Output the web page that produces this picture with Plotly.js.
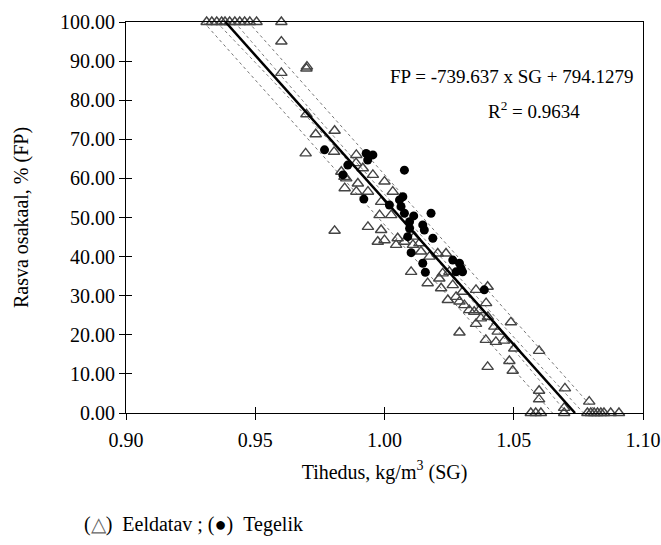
<!DOCTYPE html>
<html>
<head>
<meta charset="utf-8">
<script src="https://cdn.plot.ly/plotly-3.0.1.min.js"></script>
<style>html,body{margin:0;padding:0;background:#fff;}#chart{width:661px;height:545px;}</style>
</head>
<body>
<div id="chart"></div>
<script>
// Eeldatav (predicted) – open triangles
const sgEeldatav = [0.9312,0.9332,0.9351,0.9370,0.9383,0.9401,0.9421,0.9440,0.9459,0.9479,0.9505,0.9601,
  0.9601,0.9601,0.9698,0.9700,0.9698,0.9734,0.9695,0.9807,0.9805,
  0.9891,0.9890,0.9916,0.9833,0.9852,0.9845,0.9897,0.9955,1.0000,0.9846,0.9891,0.9936,1.0032,0.9987,0.9981,1.0026,
  0.9807,0.9936,0.9987,1.0051,1.0000,0.9974,1.0045,1.0077,1.0110,1.0116,1.0135,1.0141,1.0174,1.0206,1.0238,
  1.0103,1.0225,1.0251,1.0212,1.0167,1.0219,1.0264,1.0245,1.0277,1.0302,1.0290,1.0309,1.0354,1.0399,
  1.0328,1.0347,1.0367,1.0393,1.0400,1.0373,1.0354,1.0290,1.0489,1.0425,1.0438,1.0463,1.0431,1.0502,1.0392,
  1.0598,1.0483,1.0496,1.0399,1.0598,1.0598,1.0566,1.0585,1.0605,1.0698,1.0695,1.0695,1.0792,
  1.0785,1.0798,1.0811,1.0824,1.0837,1.0849,1.0875,1.0907];
const fpEeldatav = [100,100,100,100,100,100,100,100,100,100,100,100,
  95.0,87.0,88.1,88.6,76.4,71.3,66.4,72.2,66.8,
  66.0,63.9,62.6,61.7,60.0,60.4,58.7,60.9,59.2,57.5,56.6,56.6,56.6,54.0,50.6,50.6,
  46.6,47.6,46.8,44.7,44.2,43.8,43.0,43.8,43.0,45.1,43.4,41.3,40.0,40.8,40.8,
  36.1,35.7,36.1,34.4,33.2,31.9,32.7,28.9,29.7,31.0,28.5,27.6,31.5,32.3,
  26.3,25.9,26.3,28.1,24.6,24.2,22.8,20.6,23.2,22.1,20.8,18.5,18.2,16.5,18.7,
  15.9,13.3,10.8,11.8,5.7,3.5,0,0,0,6.3,0,1.3,2.9,
  0,0,0,0,0,0,0,0];

// Tegelik (actual) – filled circles
const sgTegelik = [0.9768,0.9929,0.9955,0.9935,0.9858,0.9839,1.0077,0.9920,1.0071,1.0058,1.0019,1.0064,1.0077,1.0113,
  1.0180,1.0097,1.0148,1.0154,1.0097,1.0090,1.0187,1.0103,1.0148,1.0158,1.0264,1.0290,1.0296,1.0277,1.0302,1.0386];
const fpTegelik = [67.3,66.4,66.0,64.7,63.4,60.9,62.1,54.7,55.3,54.5,53.2,52.8,51.1,50.4,
  51.1,48.9,48.1,46.8,47.2,45.1,44.7,41.0,38.3,36.0,39.1,38.3,37.0,36.1,36.1,31.5];

// Regression line FP = -739.637 x SG + 794.1279 (end points)
const sgFit = [0.9385, 1.0737];
const fpFit = [100, 0];

// Dashed band lines
const sgBandOuterLow = [0.9300, 1.0650];
const sgBandOuterHigh = [0.9473, 1.0823];
const sgBandInnerLow = [0.9350, 1.0060, 1.0705];
const sgBandInnerHigh = [0.9420, 1.0080, 1.0770];
const fpBandOuter = [100, 0];
const fpBandInner = [100, 50, 0];

const xTicks = [0.90, 0.95, 1.00, 1.05, 1.10];
const yTicks = [0, 10, 20, 30, 40, 50, 60, 70, 80, 90, 100];

const serif = '"Liberation Serif", "Times New Roman", serif';
const dashLine = {color: '#777', width: 1, dash: '3px,3px'};

const traces = [
  {x: sgBandOuterLow, y: fpBandOuter, mode: 'lines', line: dashLine, hoverinfo: 'skip'},
  {x: sgBandOuterHigh, y: fpBandOuter, mode: 'lines', line: dashLine, hoverinfo: 'skip'},
  {x: sgBandInnerLow, y: fpBandInner, mode: 'lines', line: Object.assign({}, dashLine, {shape: 'spline'}), hoverinfo: 'skip'},
  {x: sgBandInnerHigh, y: fpBandInner, mode: 'lines', line: Object.assign({}, dashLine, {shape: 'spline'}), hoverinfo: 'skip'},
  {x: sgEeldatav, y: fpEeldatav, mode: 'markers', name: 'Eeldatav',
   marker: {symbol: 'triangle-up-open', size: 10, color: '#444', line: {width: 1.4}}, cliponaxis: false},
  {x: sgTegelik, y: fpTegelik, mode: 'markers', name: 'Tegelik',
   marker: {symbol: 'circle', size: 9, color: '#000'}, cliponaxis: false},
  {x: sgFit, y: fpFit, mode: 'lines', line: {color: '#000', width: 2.5}, hoverinfo: 'skip'},
  {x: [], y: [], xaxis: 'x2', yaxis: 'y2', mode: 'markers'}
];

const axisCommon = {
  showgrid: false, zeroline: false, showline: true, linecolor: '#000', linewidth: 1,
  ticks: 'outside', ticklen: 6, tickwidth: 1, tickcolor: '#000',
  tickfont: {family: serif, size: 20, color: '#000'}, tickformat: '.2f', mirror: true
};

const layout = {
  width: 661, height: 545,
  margin: {l: 126, r: 18, t: 22, b: 132},
  paper_bgcolor: '#fff', plot_bgcolor: '#fff',
  font: {family: serif, size: 20, color: '#000'},
  showlegend: false,
  xaxis: Object.assign({}, axisCommon, {
    range: [0.90, 1.10], tickmode: 'array', tickvals: xTicks, ticklabelstandoff: 3,
    title: {text: 'Tihedus, kg/m<sup>3</sup> (SG)', font: {family: serif, size: 20, color: '#000'}, standoff: 14}
  }),
  yaxis: Object.assign({}, axisCommon, {
    range: [0, 100], tickmode: 'array', tickvals: yTicks,
    title: {text: 'Rasva osakaal, % (FP)', font: {family: serif, size: 20, color: '#000'}, standoff: 26}
  }),
  xaxis2: {overlaying: 'x', anchor: 'y2', range: [0.90, 1.10], tickmode: 'array', tickvals: xTicks,
    ticks: 'inside', ticklen: 6, tickcolor: '#000', showticklabels: false, showgrid: false, zeroline: false, showline: false},
  yaxis2: {overlaying: 'y', anchor: 'x2', range: [0, 100], tickmode: 'array', tickvals: yTicks,
    ticks: 'inside', ticklen: 6, tickcolor: '#000', showticklabels: false, showgrid: false, zeroline: false, showline: false},
  annotations: [
    {xref: 'paper', yref: 'paper', x: 0.985, y: 0.86, xanchor: 'right', yanchor: 'middle', showarrow: false,
     text: 'FP = -739.637 x SG + 794.1279', font: {family: serif, size: 19, color: '#000'}},
    {xref: 'paper', yref: 'paper', x: 0.79, y: 0.775, xanchor: 'center', yanchor: 'middle', showarrow: false,
     text: 'R<sup>2</sup> = 0.9634', font: {family: serif, size: 19, color: '#000'}},
    {xref: 'paper', yref: 'paper', x: -0.085, y: -0.285, xanchor: 'left', yanchor: 'middle', showarrow: false,
     text: '(<span style="color:#666">△</span>)&nbsp;&nbsp;Eeldatav ; (●)&nbsp;&nbsp;Tegelik', font: {family: serif, size: 20, color: '#000'}}
  ]
};

Plotly.newPlot('chart', traces, layout, {staticPlot: true});
</script>
</body>
</html>
